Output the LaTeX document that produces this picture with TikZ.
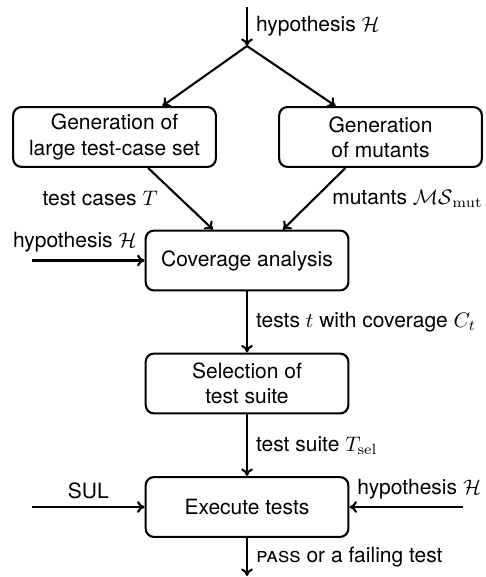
\documentclass[tikz,border=0pt]{standalone}
\usepackage[no-math]{fontspec}
\setmainfont{TeX Gyre Heros}
\usetikzlibrary{arrows.meta}

\begin{document}
\begin{tikzpicture}[x=0.476pt,y=-0.476pt,
  procbox/.style={draw, rounded corners=4pt, line width=1pt,
    minimum width=96.5pt, minimum height=28.5pt, align=center, inner sep=2pt},
  flow/.style={-{To[length=3.6pt,width=5.6pt]}, line width=1pt}]
\useasboundingbox (0,0) rectangle (485,577);

% process boxes
\node[procbox] (gen)  at (114.5,137) {Generation of\\large test-case set};
\node[procbox] (mut)  at (380.5,137) {Generation\\of mutants};
\node[procbox] (cov)  at (247,260.5) {Coverage analysis};
\node[procbox] (sel)  at (247,383.5) {Selection of\\test suite};
\node[procbox] (exe)  at (247,507)   {Execute tests};

% free ends of the input and output connectors
\coordinate (hypTop) at (247,7);
\coordinate (split)  at (247,46);
\coordinate (hypL)   at (32,260.5);
\coordinate (sulIn)  at (32,507);
\coordinate (hypR)   at (463,507);
\coordinate (result) at (247,576);

% hypothesis enters and splits to both generators
\draw[flow] (hypTop) -- node[right, xshift=0.5pt] {hypothesis $\mathcal{H}$} (split);
\draw[flow] (split) -- ([xshift=22.8pt]gen.north);
\draw[flow] (split) -- ([xshift=-21.4pt]mut.north);

% generated material flows into coverage analysis
\draw[flow] ([xshift=16pt]gen.south) -- node[left=7pt] {test cases $T$} ([xshift=-16.2pt]cov.north);
\draw[flow] ([xshift=-16.7pt]mut.south) -- node[right=4.8pt] {mutants $\mathcal{MS}_{\mathrm{mut}}$} ([xshift=17.1pt]cov.north);
\draw[flow] (hypL) -- node[pos=1, above left] {hypothesis $\mathcal{H}$} (cov.west);

% main pipeline
\draw[flow] (cov) -- node[right, xshift=0.5pt] {tests $t$ with coverage $C_t$} (sel);
\draw[flow] (sel) -- node[right, xshift=0.5pt] {test suite $T_{\mathrm{sel}}$} (exe);
\draw[flow] (sulIn) -- node[above] {SUL} (exe.west);
\draw[flow] (hypR) -- node[pos=1, above right] {hypothesis $\mathcal{H}$} (exe.east);
\draw[flow] (exe) -- node[right, xshift=0.5pt] {\textsc{pass} or a failing test} (result);
\end{tikzpicture}
\end{document}
